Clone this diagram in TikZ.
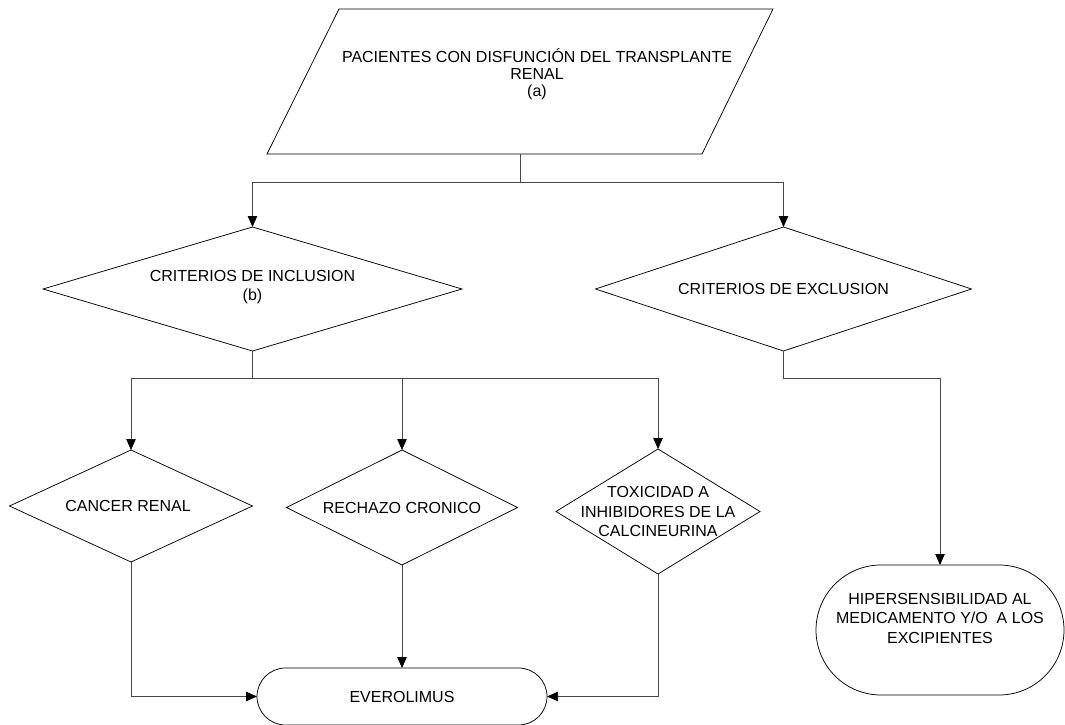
\documentclass[tikz,border=0pt]{standalone}
\usepackage{fontspec}
\setmainfont{Liberation Sans}
\usetikzlibrary{shapes.geometric,shapes.misc,arrows.meta}

\begin{document}
\begin{tikzpicture}[x=1pt,y=-1pt,
  every node/.style={inner sep=0pt, outer sep=0pt, align=center},
  lbl/.style={font=\fontsize{16}{19.5}\selectfont},
  outline/.style={draw=black, line width=0.75pt},
  decision/.style={outline, diamond},
  terminal/.style={outline, rounded rectangle},
  link/.style={draw=black!72, line width=0.75pt},
  flow/.style={link, -{Triangle[length=11pt,width=9.5pt,color=black]}}
]
\useasboundingbox (0,0) rectangle (1065,725);

% input: parallelogram
\draw[outline] (339,9) -- (773,9) -- (702,154) -- (267,154) -- cycle;
\node[font=\fontsize{16}{17}\selectfont] (pac) at (537,74)
  {PACIENTES CON DISFUNCIÓN DEL TRANSPLANTE\\RENAL\\(a)};
\coordinate (pacb) at (520,154);
\coordinate (split) at (520,182);

% first-level decisions
\node[decision, minimum width=419pt, minimum height=124pt] (inc) at (252.5,289) {};
\node[font=\fontsize{16}{18.5}\selectfont] (inct) at (252.5,287) {CRITERIOS DE INCLUSION\\(b)};
\node[decision, minimum width=376pt, minimum height=124pt] (exc) at (783.5,289) {};
\node[lbl] (exct) at (783.5,289) {CRITERIOS DE EXCLUSION};

% second-level decisions
\node[decision, minimum width=243pt, minimum height=112pt] (can) at (131,506) {};
\node[lbl] (cant) at (128,506) {CANCER RENAL};
\node[decision, minimum width=231pt, minimum height=115pt] (rec) at (402,507.5) {};
\node[lbl] (rect) at (402,507.5) {RECHAZO CRONICO};
\node[decision, minimum width=204pt, minimum height=125pt] (tox) at (658,511.5) {};
\node[lbl] (toxt) at (658,511.5) {TOXICIDAD A\\INHIBIDORES DE LA\\CALCINEURINA};

% outcomes
\node[terminal, minimum width=290pt, minimum height=57pt] (eve) at (402,696.5) {};
\node[lbl] (evet) at (402,696.5) {EVEROLIMUS};
\node[terminal, minimum width=248pt, minimum height=130pt] (hip) at (940,630) {};
\node[lbl] (hipt) at (940,618) {HIPERSENSIBILIDAD AL\\MEDICAMENTO Y/O\ \ A LOS\\EXCIPIENTES};

% connectors
\draw[link] (pacb) -- (split);
\draw[flow] (split) -| (inc.north);
\draw[flow] (split) -| (exc.north);

\draw[link] (inc.south) -- ++(0,27) coordinate (incsplit);
\draw[flow] (incsplit) -| (can.north);
\draw[flow] (incsplit) -| (rec.north);
\draw[flow] (incsplit) -| (tox.north);

\draw[flow] (exc.south) -- ++(0,27) -| (hip.north);

\draw[flow] (can.south) |- (eve.west);
\draw[flow] (rec.south) -- (eve.north);
\draw[flow] (tox.south) |- (eve.east);
\end{tikzpicture}
\end{document}
